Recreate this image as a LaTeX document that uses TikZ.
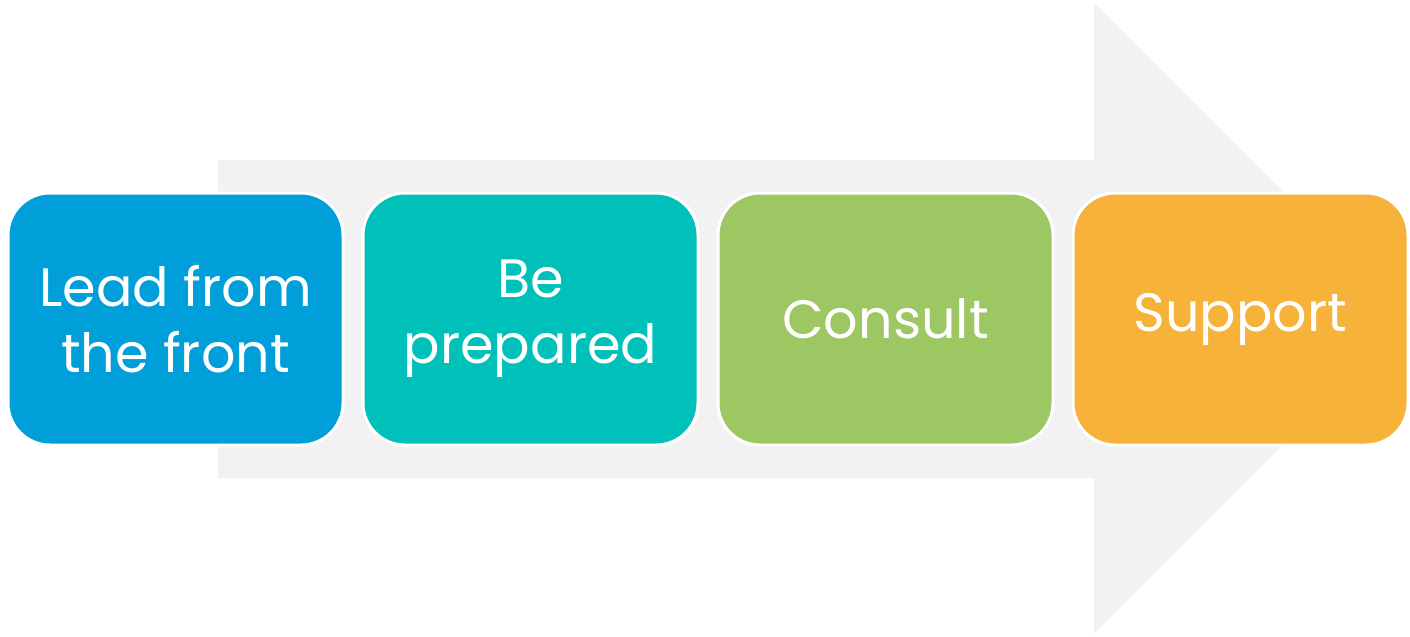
\documentclass[tikz,border=0pt]{standalone}
\usepackage{fontspec}
\setmainfont{Poppins}
\usepackage{tikz}
\definecolor{mybluebox}{RGB}{0, 159, 217}
\definecolor{mytealbox}{RGB}{0, 192, 186}
\definecolor{mygreenbox}{RGB}{157, 199, 99}
\definecolor{myorangebox}{RGB}{247, 178, 57}
\definecolor{myarrowgray}{RGB}{242, 242, 242}
\tikzset{every picture/.style={line width=0.75pt}}
\tikzset{stepbox/.style={draw=white, line width=1.5pt, rounded corners=21pt, minimum width=167.5pt, minimum height=126pt, inner sep=0pt, align=center, text=white, font=\fontsize{27pt}{33pt}\selectfont}}

\begin{document}
\begin{tikzpicture}[x=0.5pt,y=0.5pt,yscale=-1,xscale=1]
\useasboundingbox (0,0) rectangle (1410,637);

%Shape: Right Arrow [id:dp_arrow]
\fill [myarrowgray] (218,160) -- (1094,160) -- (1094,3) -- (1410,318) -- (1094,634) -- (1094,478) -- (218,478) -- cycle ;

%Shape: Rounded Rect [id:dp_lead]
\node [stepbox, fill=mybluebox] (lead) at (175.5,319) {Lead from\\the front};
%Shape: Rounded Rect [id:dp_prepared]
\node [stepbox, fill=mytealbox] (prepared) at (530.5,319) {Be\\prepared};
%Shape: Rounded Rect [id:dp_consult]
\node [stepbox, fill=mygreenbox] (consult) at (885.5,319) {Consult};
%Shape: Rounded Rect [id:dp_support]
\node [stepbox, fill=myorangebox] (support) at (1240.5,319) {Support};

\end{tikzpicture}
\end{document}
